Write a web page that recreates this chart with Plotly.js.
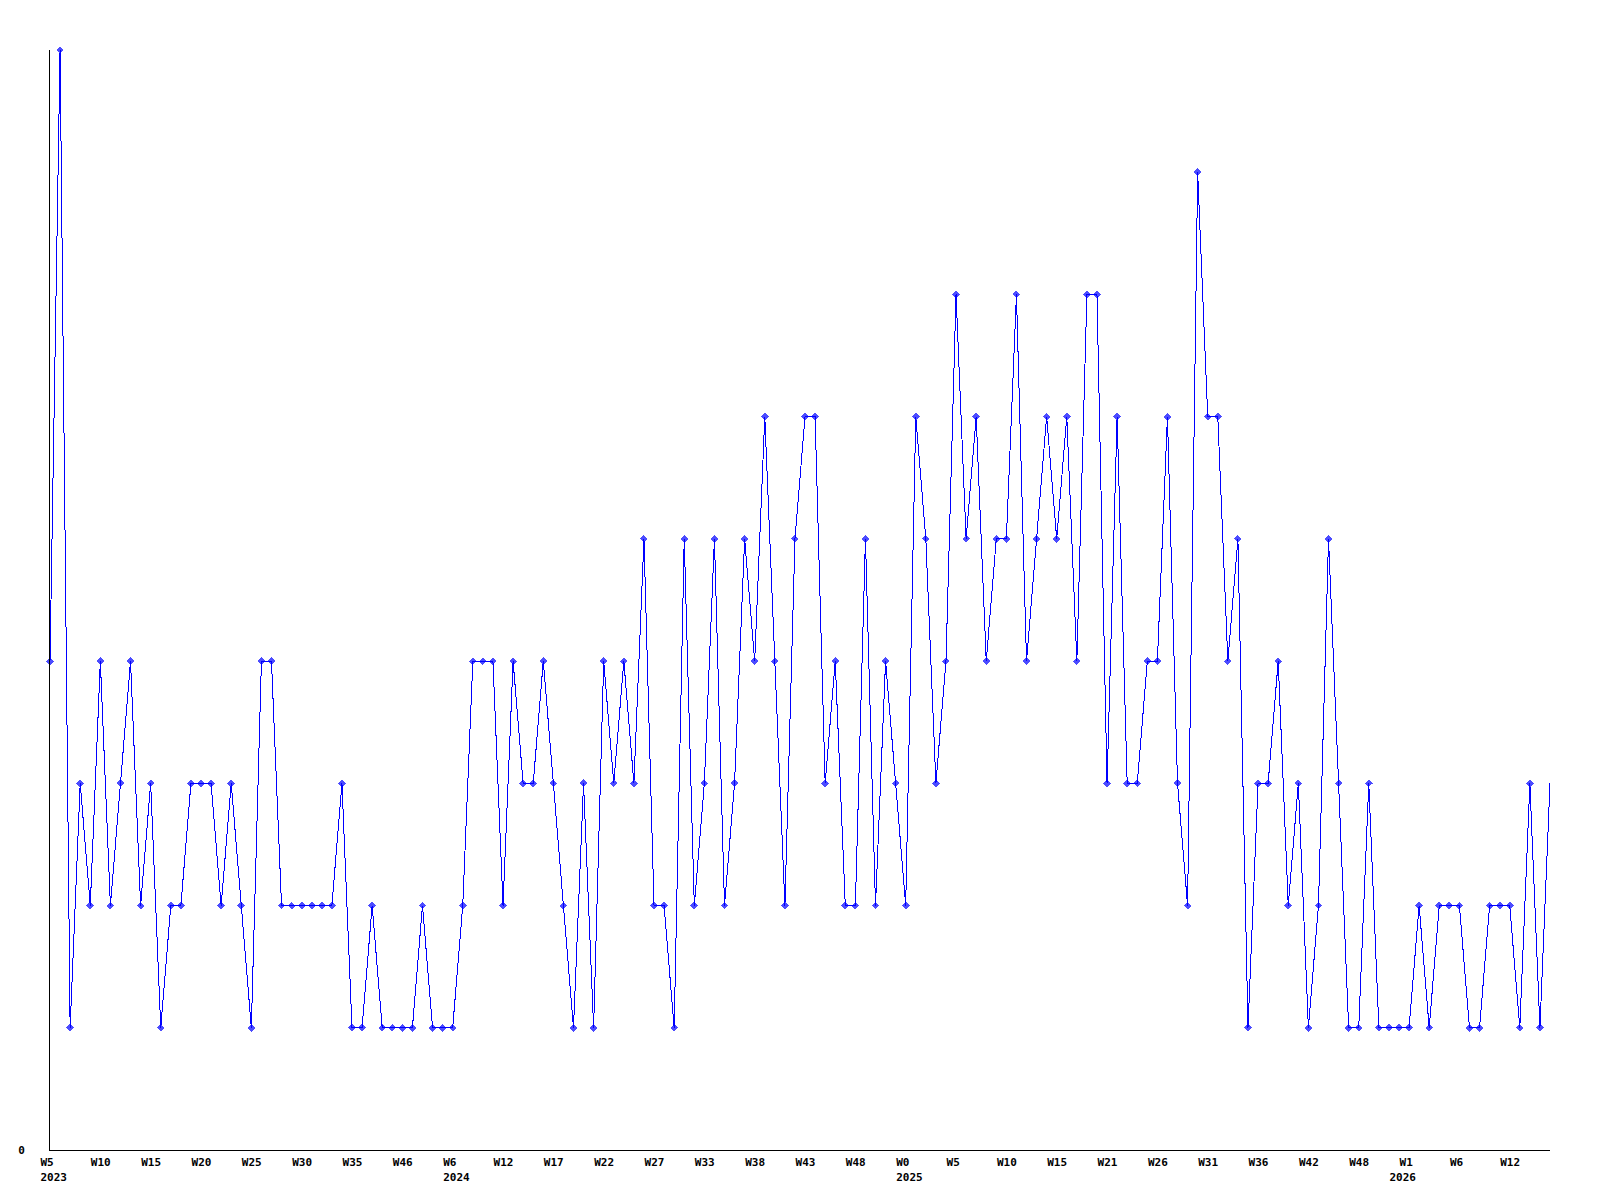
<!DOCTYPE html>
<html>
<head>
<meta charset="utf-8">
<script src="https://cdn.plot.ly/plotly-3.0.1.min.js"></script>
<style>
  html, body { margin: 0; padding: 0; background: #ffffff; }
  #chart { width: 1600px; height: 1200px; }
  #chart .scatterlayer path { shape-rendering: crispEdges; }
  #chart .xaxislayer-above text, #chart .yaxislayer-above text { text-rendering: optimizeSpeed; }
</style>
</head>
<body>
<div id="chart"></div>
<script>
// Weekly counts, one per plotted week (consecutive categories)
const values = [
  4,9,1,3,2,4,2,3,4,2,
  3,1,2,2,3,3,3,2,3,2,
  1,4,4,2,2,2,2,2,2,3,
  1,1,2,1,1,1,1,2,1,1,
  1,2,4,4,4,2,4,3,3,4,
  3,2,1,3,1,4,3,4,3,5,
  2,2,1,5,2,3,5,2,3,5,
  4,6,4,2,5,6,6,3,4,2,
  2,5,2,4,3,2,6,5,3,4,
  7,5,6,4,5,5,7,4,5,6,
  5,6,4,7,7,3,6,3,3,4,
  4,6,3,2,8,6,6,4,5,1,
  3,3,4,2,3,1,2,5,3,1,
  1,3,1,1,1,1,2,1,2,2,
  2,1,1,2,2,2,1,3,1,3
];

// Week tick labels: every 5th plotted week
const tickWeeks = ["W5","W10","W15","W20","W25","W30","W35","W46","W6","W12",
                   "W17","W22","W27","W33","W38","W43","W48","W0","W5","W10",
                   "W15","W21","W26","W31","W36","W42","W48","W1","W6","W12"];
const tickStep = 5;

// Year labels and the plotted-week index where each year starts
const years = ["2023", "2024", "2025", "2026"];
const yearStartIdx = [0, 40, 85, 134];

const xIdx = values.map((v, i) => i);

// Build combined tick list (week label on line 1, year on line 2)
const tickMap = new Map();
tickWeeks.forEach((w, i) => tickMap.set(i * tickStep, { week: w, year: "" }));
years.forEach((y, i) => {
  const k = yearStartIdx[i];
  if (!tickMap.has(k)) tickMap.set(k, { week: "\u00a0", year: "" });
  tickMap.get(k).year = y;
});
const tickVals = Array.from(tickMap.keys()).sort((a, b) => a - b);
const tickText = tickVals.map(k => {
  const t = tickMap.get(k);
  return t.year ? (t.week + "<br>" + t.year) : t.week;
});

const markerSizes = values.map((v, i) => i === values.length - 1 ? 0 : 6);

const tickFont = { family: "DejaVu Sans Mono, Liberation Mono, monospace", size: 11, color: "#000000", weight: "bold" };

const trace = {
  type: "scatter",
  mode: "lines+markers",
  x: xIdx,
  y: values,
  line: { color: "#0000ff", width: 1 },
  marker: { color: "#0000ff", symbol: "diamond", size: markerSizes, line: { width: 0 } },
  cliponaxis: false,
  hoverinfo: "x+y"
};

const layout = {
  width: 1600,
  height: 1200,
  margin: { l: 50, r: 50, t: 50, b: 50, pad: 0 },
  paper_bgcolor: "#ffffff",
  plot_bgcolor: "#ffffff",
  showlegend: false,
  xaxis: {
    type: "linear",
    range: [0, values.length - 1],
    tickmode: "array",
    tickvals: tickVals,
    ticktext: tickText,
    ticks: "",
    showgrid: false,
    zeroline: false,
    showline: true,
    linecolor: "#000000",
    linewidth: 1,
    tickfont: tickFont,
    tickangle: 0,
    ticklabelposition: "outside right",
    ticklabelshift: -10,
    ticklabelstandoff: 2
  },
  yaxis: {
    range: [0, 9],
    tickmode: "array",
    tickvals: [0],
    ticktext: ["0"],
    ticks: "",
    showgrid: false,
    zeroline: false,
    showline: true,
    linecolor: "#000000",
    linewidth: 1,
    tickfont: tickFont,
    ticklabelstandoff: 22
  }
};

Plotly.newPlot("chart", [trace], layout, { displayModeBar: false, staticPlot: true });
</script>
</body>
</html>
